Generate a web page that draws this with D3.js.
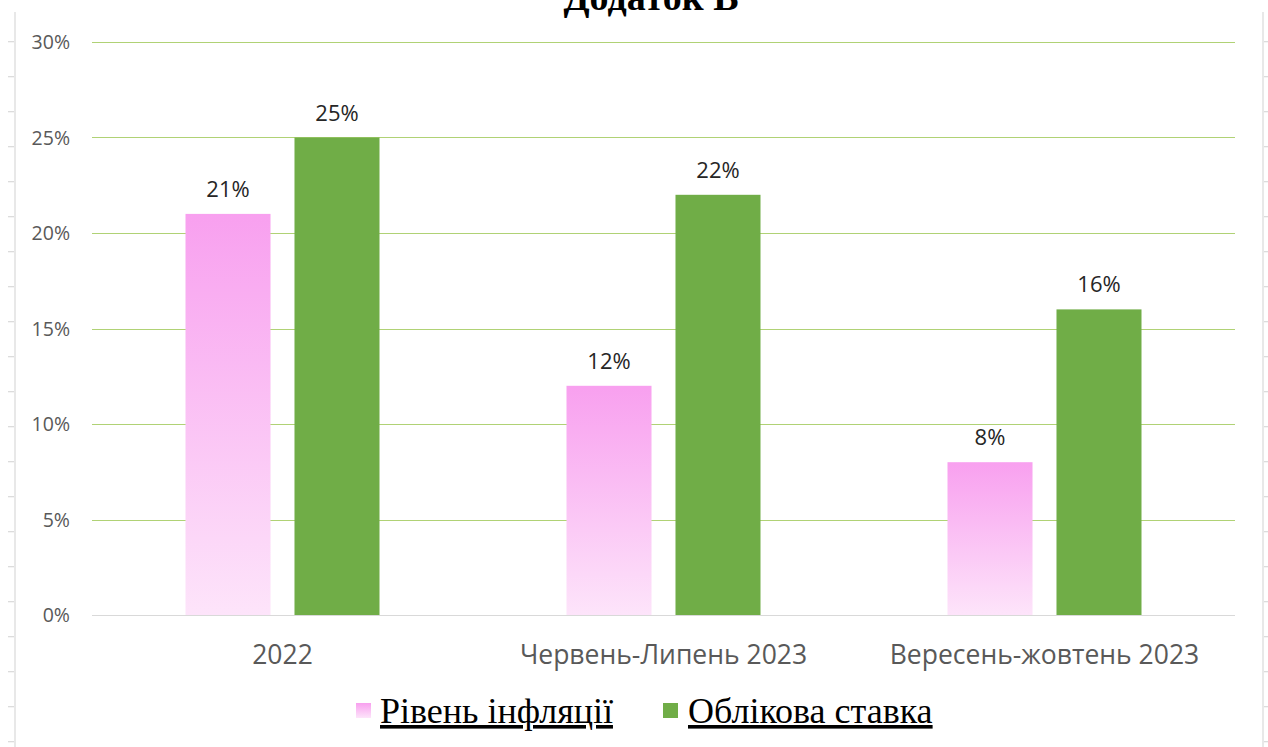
<!DOCTYPE html>
<html>
<head>
<meta charset="utf-8">
<script src="https://cdn.jsdelivr.net/npm/d3@7"></script>
<style>
  html, body { margin: 0; padding: 0; background: #ffffff; }
  svg { display: block; }
</style>
</head>
<body>
<svg id="chart" width="1268" height="747"></svg>
<script>
// ---- data ----
const title = "Додаток В";
const categories = ["2022", "Червень-Липень 2023", "Вересень-жовтень 2023"];
const seriesNames = ["Рівень інфляції", "Облікова ставка"];
const inflation = [0.21, 0.12, 0.08];
const discountRate = [0.25, 0.22, 0.16];
const yTicks = [0, 0.05, 0.10, 0.15, 0.20, 0.25, 0.30];

const seriesValues = [inflation, discountRate];
const rows = categories.map((c, i) => ({
  category: c,
  values: seriesNames.map((s, j) => ({ series: s, value: seriesValues[j][i] }))
}));

// ---- layout ----
const W = 1268, H = 747;
const plotLeft = 92, plotRight = 1235, plotTop = 42, plotBottom = 615;
const groupWidth = 194;
const svg = d3.select("#chart");

const defs = svg.append("defs");
const grad = defs.append("linearGradient")
  .attr("id", "pinkGrad").attr("x1", 0).attr("y1", 0).attr("x2", 0).attr("y2", 1);
grad.append("stop").attr("offset", "0%").attr("stop-color", "#f8a0ef");
grad.append("stop").attr("offset", "100%").attr("stop-color", "#fde4fa");

const colors = d3.scaleOrdinal().domain(seriesNames).range(["url(#pinkGrad)", "#70ad47"]);

const x0 = d3.scaleBand().domain(categories).range([plotLeft, plotRight]).padding(0);
const x1 = d3.scaleBand().domain(seriesNames).range([0, groupWidth]).paddingInner(0.22).paddingOuter(0);
const y = d3.scaleLinear().domain([0, 0.30]).range([plotBottom, plotTop]);
const pct = d3.format(".0%");

// ---- side rulers ----
const rulerY = d3.range(41.7, H, 35);
const rulers = svg.append("g").attr("stroke", "#d9d9d9").attr("stroke-width", 1.2);
rulers.append("line").attr("x1", 15).attr("x2", 15).attr("y1", 12).attr("y2", H);
rulers.selectAll(".lt").data(rulerY).join("line")
  .attr("x1", 8).attr("x2", 14).attr("y1", d => d).attr("y2", d => d);
rulers.append("line").attr("x1", 1263).attr("x2", 1263).attr("y1", 12).attr("y2", H);
rulers.selectAll(".rt").data(rulerY).join("line")
  .attr("x1", 1264).attr("x2", 1268).attr("y1", d => d).attr("y2", d => d);

// ---- title ----
svg.append("text")
  .attr("x", 651).attr("y", 10)
  .attr("text-anchor", "middle")
  .attr("font-family", "'Liberation Serif', 'Times New Roman', serif")
  .attr("font-weight", "bold").attr("font-size", 38)
  .attr("fill", "#000")
  .text(title);

// ---- gridlines ----
svg.append("g").selectAll("line").data(yTicks).join("line")
  .attr("x1", plotLeft).attr("x2", plotRight)
  .attr("y1", d => Math.round(y(d)) + 0.5).attr("y2", d => Math.round(y(d)) + 0.5)
  .attr("stroke", d => d === 0 ? "#d9d9d9" : "#b0d275")
  .attr("stroke-width", 1.2);

// ---- y tick labels ----
svg.append("g").selectAll("text").data(yTicks).join("text")
  .attr("x", 70).attr("y", d => y(d) + 7)
  .attr("text-anchor", "end")
  .attr("font-family", "'Open Sans', sans-serif").attr("font-size", 19.5)
  .attr("fill", "#595959")
  .text(d => pct(d));

// ---- bars ----
const groups = svg.append("g").selectAll("g").data(rows).join("g")
  .attr("transform", d => `translate(${x0(d.category) + x0.bandwidth() / 2 - groupWidth / 2},0)`);

groups.selectAll("rect").data(d => d.values).join("rect")
  .attr("x", d => x1(d.series))
  .attr("width", x1.bandwidth())
  .attr("y", d => y(d.value))
  .attr("height", d => y(0) - y(d.value))
  .attr("fill", d => colors(d.series));

groups.selectAll("text").data(d => d.values).join("text")
  .attr("x", d => x1(d.series) + x1.bandwidth() / 2)
  .attr("y", d => y(d.value) - 17)
  .attr("text-anchor", "middle")
  .attr("font-family", "'Open Sans', sans-serif").attr("font-size", 22)
  .attr("fill", "#262626")
  .text(d => pct(d.value));

// ---- category labels ----
svg.append("g").selectAll("text").data(categories).join("text")
  .attr("x", d => x0(d) + x0.bandwidth() / 2)
  .attr("y", 664)
  .attr("text-anchor", "middle")
  .attr("font-family", "'Open Sans', sans-serif").attr("font-size", 26.5)
  .attr("fill", "#595959")
  .text(d => d);

// ---- legend ----
const legendItems = [
  { name: seriesNames[0], sq: 356, tx: 380 },
  { name: seriesNames[1], sq: 663, tx: 688 }
];
const lg = svg.append("g");
lg.selectAll("rect").data(legendItems).join("rect")
  .attr("x", d => d.sq).attr("y", 703).attr("width", 15).attr("height", 15)
  .attr("fill", d => colors(d.name));
lg.selectAll("text").data(legendItems).join("text")
  .attr("x", d => d.tx).attr("y", 723)
  .attr("font-family", "'Liberation Serif', 'Times New Roman', serif")
  .attr("font-size", 36)
  .attr("fill", "#000")
  .attr("text-decoration", "underline")
  .text(d => d.name);
</script>
</body>
</html>
